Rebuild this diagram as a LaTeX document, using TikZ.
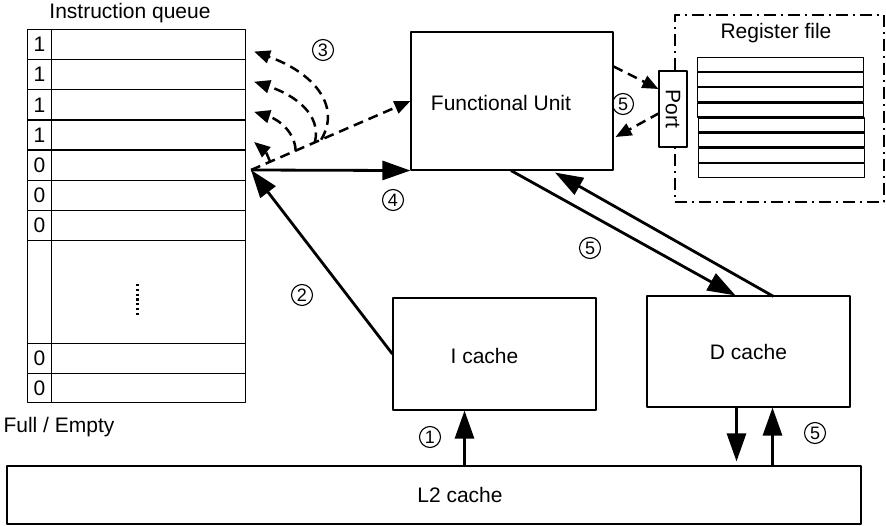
\documentclass[tikz,border=0pt]{standalone}
\usepackage{fontspec}
\setmainfont{Liberation Sans}
\usepackage{tikz}
\usetikzlibrary{arrows.meta,positioning,calc}
\tikzset{
  every picture/.style={font=\fontsize{21}{25}\selectfont, line join=round, >={Triangle[length=28pt,width=19pt]}},
  box/.style={draw,line width=1.1pt,inner sep=0pt},
  cell/.style={box,anchor=north west,minimum height=30pt},
  regrow/.style={box,line width=1.3pt,anchor=north west,minimum width=166pt,minimum height=14pt},
  regbox/.style={draw,line width=2pt,dash pattern=on 12pt off 5pt on 2pt off 5pt},
  flow/.style={line width=2.8pt,->},
  dflow/.style={line width=2.5pt,-{Triangle[length=16pt,width=13pt]},dash pattern=on 10pt off 6pt},
  num/.style={draw,circle,line width=1.1pt,minimum size=21pt,inner sep=0pt,font=\fontsize{18}{18}\selectfont},
}

\begin{document}
\begin{tikzpicture}[x=1pt,y=-1pt]
\useasboundingbox (0,0) rectangle (886,526);
% instruction queue
\foreach \v [count=\i] in {1,1,1,1,0,0,0}{
  \node[cell,minimum width=24pt] (f\i) at (27,{29+30.15*(\i-1)}) {\v};
  \node[cell,minimum width=194pt] (e\i) at (51,{29+30.15*(\i-1)}) {};
}
\node[cell,minimum width=24pt,minimum height=103pt] (f8) at (27,240) {};
\node[cell,minimum width=194pt,minimum height=103pt] (e8) at (51,240) {};
\node[cell,minimum width=24pt] (f9) at (27,343) {0};
\node[cell,minimum width=194pt] (e9) at (51,343) {};
\node[cell,minimum width=24pt,minimum height=29pt] (f10) at (27,373) {0};
\node[cell,minimum width=194pt,minimum height=29pt] (e10) at (51,373) {};
\draw[line width=2.2pt,dash pattern=on 2.2pt off 2.6pt] ($(e8.center)+(-11,-8)$) -- ($(e8.center)+(-11,24)$);
\node (iqlabel) at (130,13) {Instruction queue};
\node (felabel) at (59,427) {Full / Empty};
% units
\node[box,minimum width=202pt,minimum height=138pt] (fu) at (512,101) {};
\node (fulabel) at ($(fu)+(-11,2)$) {Functional Unit};
\node[regbox,minimum width=209pt,minimum height=187pt] (rf) at (779.5,108.5) {};
\node (rflabel) at (776,33) {Register file};
\foreach \i in {0,...,7}
  \node[regrow] (r\i) at ({\i>3 ? 698 : 697},{57+15.1*\i}) {};
\node[box,fill=white,minimum width=28pt,minimum height=76pt] (port) at (673,109) {};
\node[rotate=-90] (portlabel) at (port) {Port};
\node[box,minimum width=203pt,minimum height=112pt] (ic) at (494.5,354) {};
\node (iclabel) at ($(ic)+(-10,2)$) {I cache};
\node[box,minimum width=203pt,minimum height=111pt] (dc) at (748.5,351.5) {D cache};
\node[box,minimum width=854pt,minimum height=58pt] (l2) at (434,495) {};
\node (l2label) at ($(l2)+(26,0)$) {L2 cache};
% connectors
\coordinate (hub) at (251,170);
\foreach \i in {1,...,4} \coordinate (t\i) at ($(e\i.east)+(8,7)$);
\draw[flow] (hub) -- (fu.south west);
\draw[flow] (ic.west) -- (hub);
\draw[dflow] (hub) -- (fu.west);
\draw[dflow] ($(hub)!0.44!(fu.west)$) .. controls (342,105) and (312,72) .. (t1);
\draw[dflow] ($(hub)!0.40!(fu.west)$) .. controls (322,115) and (295,95) .. (t2);
\draw[dflow] ($(hub)!0.28!(fu.west)$) .. controls (295,133) and (280,120) .. (t3);
\draw[dflow] ($(hub)!0.12!(fu.west)$) .. controls (266,152) .. (t4);
\draw[dflow] ($(fu.north east)+(0,35)$) -- ($(port.west)+(0,-20)$);
\draw[dflow] ($(port.west)+(1,4)$) -- ($(fu.east)+(2,36)$);
\draw[flow] ($(fu.south)+(-1,0)$) -- ($(dc.north)+(-13,0)$);
\draw[flow] ($(dc.north)+(25,1)$) -- ($(fu.south)+(43,2)$);
\coordinate (ia) at ($(ic.south)+(-30,0)$);
\coordinate (da) at ($(dc.south)+(-12,0)$);
\coordinate (db) at ($(dc.south)+(24,0)$);
\draw[flow] (ia |- l2.north) -- (ia);
\draw[flow,shorten >=4pt] (da) -- (da |- l2.north);
\draw[flow] (db |- l2.north) -- (db);
% step numbers
\node[num] (n1) at (430,437) {1};
\node[num] (n2) at (302,295) {2};
\node[num] (n3) at (323,50) {3};
\node[num] (n4) at (393,200) {4};
\node[num] (n5a) at (623,104) {5};
\node[num] (n5b) at (590,248) {5};
\node[num] (n5c) at (815,433) {5};
\end{tikzpicture}
\end{document}
